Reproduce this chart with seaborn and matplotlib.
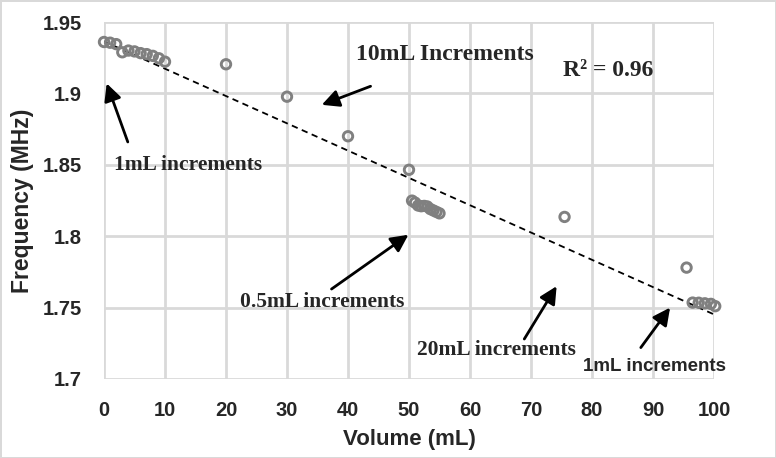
import numpy as np
import pandas as pd
import seaborn as sns
import matplotlib.pyplot as plt
from matplotlib.ticker import FixedLocator, FixedFormatter

# Volume (mL) and resonant frequency (MHz)
volume = [0, 1, 2, 3, 4, 5, 6, 7, 8, 9, 10,
          20, 30, 40, 50,
          50.5, 51, 51.5, 52, 52.5, 53, 53.5, 54, 54.5, 55,
          75.5, 95.5, 96.5, 97.5, 98.5, 99.5, 100.2]
frequency = [1.936, 1.9355, 1.9345, 1.9288, 1.930, 1.9294, 1.9282, 1.9275, 1.9263, 1.9246, 1.9222,
             1.9204, 1.8977, 1.870, 1.8465,
             1.8249, 1.8235, 1.8215, 1.8210, 1.8212, 1.8208, 1.8190, 1.8180, 1.8170, 1.8160,
             1.8135, 1.7780, 1.7535, 1.7534, 1.7530, 1.7526, 1.7510]

x_ticks = [0, 10, 20, 30, 40, 50, 60, 70, 80, 90, 100]
y_ticks = [1.7, 1.75, 1.8, 1.85, 1.9, 1.95]
y_tick_labels = ['1.7', '1.75', '1.8', '1.85', '1.9', '1.95']

df = pd.DataFrame({'Volume': volume, 'Frequency': frequency})

sns.set_style('white')
plt.rcParams['font.family'] = ['Liberation Sans', 'DejaVu Sans']

fig = plt.figure(figsize=(7.76, 4.58), dpi=100)
ax = fig.add_axes([104 / 776, 1 - 379 / 458, 610 / 776, 357 / 458])

# dashed linear trendline
sns.regplot(data=df, x='Volume', y='Frequency', scatter=False, ci=None, ax=ax,
            line_kws=dict(color='black', lw=1.3, ls=(0, (3.5, 2.5))))

sns.scatterplot(data=df, x='Volume', y='Frequency', ax=ax, marker='o', s=46,
                facecolor='none', edgecolor='#808080', linewidth=2.1, zorder=4, clip_on=False)

ax.set_xlim(0, 100)
ax.set_ylim(1.7, 1.95)
ax.xaxis.set_major_locator(FixedLocator(x_ticks))
ax.yaxis.set_major_locator(FixedLocator(y_ticks))
ax.yaxis.set_major_formatter(FixedFormatter(y_tick_labels))
ax.grid(True, color='#d9d9d9', lw=2)
ax.set_axisbelow(True)
for s in ax.spines.values():
    s.set_visible(False)
ax.tick_params(length=0, pad=16, labelsize=14.5)
for lab in ax.get_xticklabels() + ax.get_yticklabels():
    lab.set_fontweight('bold')

ax.set_xlabel('Volume (mL)', fontsize=16, fontweight='bold', labelpad=6)
ax.set_ylabel('Frequency (MHz)', fontsize=16.5, fontweight='bold', labelpad=6)

serif = ['Liberation Serif', 'DejaVu Serif']
arrow = dict(arrowstyle='-|>', color='black', lw=2, mutation_scale=26, shrinkA=0, shrinkB=0)

# annotations: (text, text position, arrow tail, arrow tip, family, size)
notes = [
    ('1mL increments', (13.8, 1.850), (3.9, 1.866), (0.44, 1.907), serif, 15.5),
    ('10mL Increments', (55.9, 1.927), (43.7, 1.905), (35.7, 1.892), serif, 17),
    ('0.5mL increments', (35.7, 1.754), (37.3, 1.763), (49.9, 1.801), serif, 15.5),
    ('20mL increments', (64.4, 1.720), (68.9, 1.728), (74.2, 1.765), serif, 15.5),
    ('1mL increments', (90.3, 1.709), (88.0, 1.722), (92.8, 1.750), ['Liberation Sans'], 13.5),
]
for txt, pos, tail, tip, fam, size in notes:
    ax.annotate('', xy=tip, xytext=tail, arrowprops=arrow, annotation_clip=False)
    ax.text(pos[0], pos[1], txt, ha='center', va='center', fontsize=size,
            fontweight='bold', family=fam, clip_on=False)

ax.text(82.6, 1.9157, 'R² = 0.96', ha='center', va='center', fontsize=17,
        fontweight='bold', family=serif)

fig.patch.set_edgecolor('#d9d9d9')
fig.patch.set_linewidth(2)

fig.savefig('out.png', dpi=100)
